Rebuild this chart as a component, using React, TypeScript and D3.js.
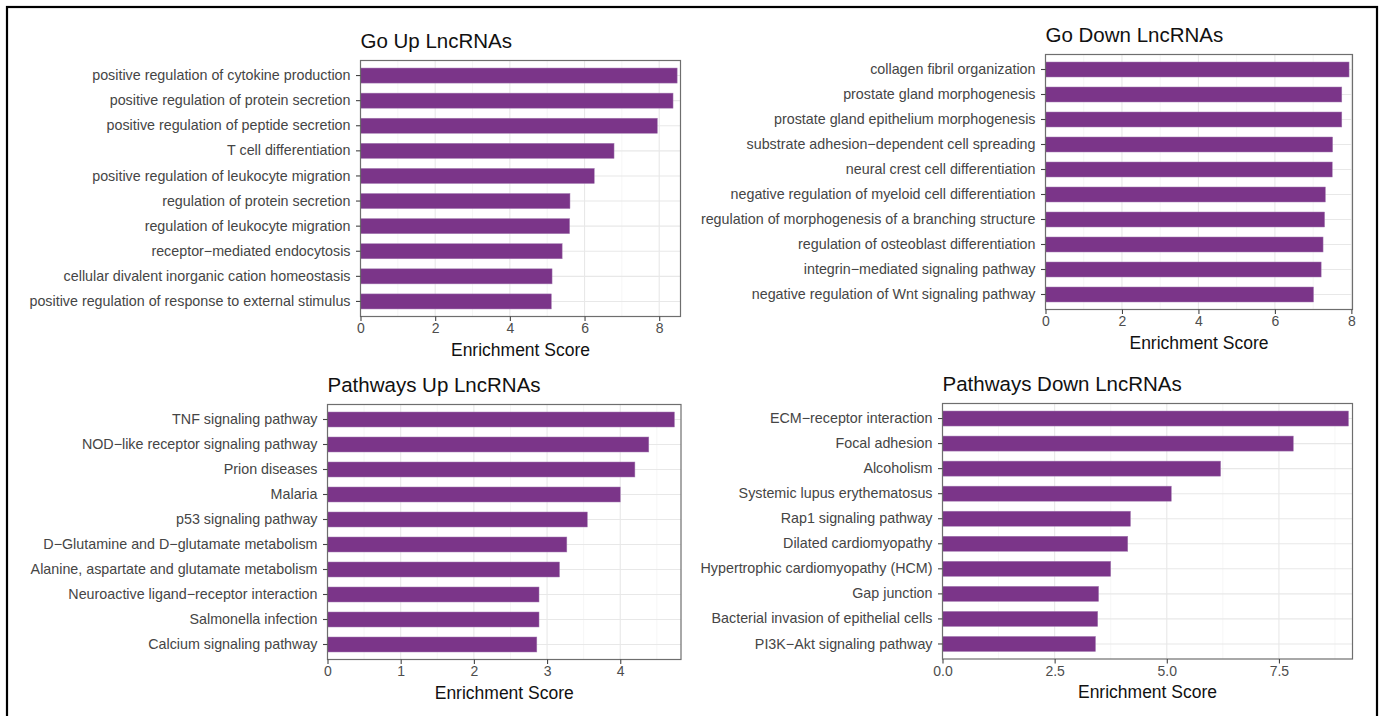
import { useEffect, useRef } from 'react';
import * as d3 from 'd3';

// GO terms, upregulated lncRNAs
const goUpTerms = [
    "positive regulation of cytokine production",
    "positive regulation of protein secretion",
    "positive regulation of peptide secretion",
    "T cell differentiation",
    "positive regulation of leukocyte migration",
    "regulation of protein secretion",
    "regulation of leukocyte migration",
    "receptor\u2212mediated endocytosis",
    "cellular divalent inorganic cation homeostasis",
    "positive regulation of response to external stimulus",
];
const goUpScores = [8.48, 8.37, 7.95, 6.79, 6.26, 5.61, 5.60, 5.40, 5.13, 5.11];

// GO terms, downregulated lncRNAs
const goDownTerms = [
    "collagen fibril organization",
    "prostate gland morphogenesis",
    "prostate gland epithelium morphogenesis",
    "substrate adhesion\u2212dependent cell spreading",
    "neural crest cell differentiation",
    "negative regulation of myeloid cell differentiation",
    "regulation of morphogenesis of a branching structure",
    "regulation of osteoblast differentiation",
    "integrin\u2212mediated signaling pathway",
    "negative regulation of Wnt signaling pathway",
];
const goDownScores = [7.94, 7.75, 7.75, 7.51, 7.50, 7.32, 7.30, 7.26, 7.21, 7.01];

// KEGG pathways, upregulated lncRNAs
const pathUpTerms = [
    "TNF signaling pathway",
    "NOD\u2212like receptor signaling pathway",
    "Prion diseases",
    "Malaria",
    "p53 signaling pathway",
    "D\u2212Glutamine and D\u2212glutamate metabolism",
    "Alanine, aspartate and glutamate metabolism",
    "Neuroactive ligand\u2212receptor interaction",
    "Salmonella infection",
    "Calcium signaling pathway",
];
const pathUpScores = [4.74, 4.39, 4.20, 4.00, 3.55, 3.27, 3.17, 2.89, 2.89, 2.86];

// KEGG pathways, downregulated lncRNAs
const pathDownTerms = [
    "ECM\u2212receptor interaction",
    "Focal adhesion",
    "Alcoholism",
    "Systemic lupus erythematosus",
    "Rap1 signaling pathway",
    "Dilated cardiomyopathy",
    "Hypertrophic cardiomyopathy (HCM)",
    "Gap junction",
    "Bacterial invasion of epithelial cells",
    "PI3K\u2212Akt signaling pathway",
];
const pathDownScores = [9.05, 7.82, 6.20, 5.10, 4.19, 4.13, 3.75, 3.48, 3.46, 3.41];

// x axis breaks
const goUpTicks = [0, 2, 4, 6, 8];
const goUpMinor = [1, 3, 5, 7];
const goDownTicks = [0, 2, 4, 6, 8];
const goDownMinor = [1, 3, 5, 7];
const pathUpTicks = [0, 1, 2, 3, 4];
const pathUpMinor = [0.5, 1.5, 2.5, 3.5, 4.5];
const pathDownTicks = [0, 2.5, 5, 7.5];
const pathDownMinor = [1.25, 3.75, 6.25, 8.75];

const FONT = "'Liberation Sans', Arial, Helvetica, sans-serif";
const BAR = "#7B3589";

export default function App() {
    const svgRef = useRef<SVGSVGElement>(null);

    useEffect(() => {
        if (!svgRef.current) return;
        const svg = d3.select(svgRef.current);
        svg.selectAll("*").remove();

        const panels = [
            { title: "Go Up LncRNAs", terms: goUpTerms, scores: goUpScores, ticks: goUpTicks, minor: goUpMinor, fmt: d3.format("d"), left: 360.5, right: 680.5, top: 60.5, bottom: 316.5 },
            { title: "Go Down LncRNAs", terms: goDownTerms, scores: goDownScores, ticks: goDownTicks, minor: goDownMinor, fmt: d3.format("d"), left: 1045.5, right: 1352.5, top: 54.5, bottom: 309.5 },
            { title: "Pathways Up LncRNAs", terms: pathUpTerms, scores: pathUpScores, ticks: pathUpTicks, minor: pathUpMinor, fmt: d3.format("d"), left: 327.5, right: 681, top: 404.5, bottom: 659.5 },
            { title: "Pathways Down LncRNAs", terms: pathDownTerms, scores: pathDownScores, ticks: pathDownTicks, minor: pathDownMinor, fmt: d3.format(".1f"), left: 942.5, right: 1352.5, top: 403.5, bottom: 659 },
        ];

        // outer frame
        svg.append("rect")
            .attr("x", 7).attr("y", 7)
            .attr("width", 1370).attr("height", 730)
            .attr("fill", "none")
            .attr("stroke", "#000")
            .attr("stroke-width", 2.2);

        panels.forEach(p => {
            const x = d3.scaleLinear()
                .domain([0, (d3.max(p.scores) || 0) + 0.09])
                .range([p.left, p.right]);
            const y = d3.scaleBand()
                .domain(p.terms)
                .range([p.top, p.bottom])
                .paddingInner(0.4)
                .paddingOuter(0.3);

            const g = svg.append("g").style("font-family", FONT);

            // grid
            g.append("g").selectAll("line")
                .data(p.minor.filter(v => x(v) < p.right))
                .join("line")
                .attr("x1", d => x(d)).attr("x2", d => x(d))
                .attr("y1", p.top).attr("y2", p.bottom)
                .attr("stroke", "#F2F2F2").attr("stroke-width", 0.7);
            g.append("g").selectAll("line")
                .data(p.ticks)
                .join("line")
                .attr("x1", d => x(d)).attr("x2", d => x(d))
                .attr("y1", p.top).attr("y2", p.bottom)
                .attr("stroke", "#E8E8E8").attr("stroke-width", 1.1);
            g.append("g").selectAll("line")
                .data(p.terms)
                .join("line")
                .attr("x1", p.left).attr("x2", p.right)
                .attr("y1", d => (y(d) || 0) + y.bandwidth() / 2)
                .attr("y2", d => (y(d) || 0) + y.bandwidth() / 2)
                .attr("stroke", "#E8E8E8").attr("stroke-width", 1.1);

            // bars
            g.append("g").selectAll("rect")
                .data(p.terms.map((t, i) => ({ term: t, score: p.scores[i] })))
                .join("rect")
                .attr("x", x(0))
                .attr("y", d => y(d.term) || 0)
                .attr("width", d => x(d.score) - x(0))
                .attr("height", y.bandwidth())
                .attr("fill", BAR)
                .attr("stroke", "#A47DB2")
                .attr("stroke-width", 0.5);

            // panel border
            g.append("rect")
                .attr("x", p.left).attr("y", p.top)
                .attr("width", p.right - p.left).attr("height", p.bottom - p.top)
                .attr("fill", "none")
                .attr("stroke", "#6E6E6E")
                .attr("stroke-width", 1.2);

            // y axis
            g.append("g")
                .attr("transform", `translate(${p.left},0)`)
                .call(d3.axisLeft(y).tickSize(4.5).tickPadding(5.5))
                .call(a => a.select(".domain").remove())
                .call(a => a.selectAll("line").attr("stroke", "#444").attr("stroke-width", 1.1))
                .selectAll("text")
                .style("font-size", "14.3px")
                .style("font-family", FONT)
                .attr("fill", "#454545");

            // x axis
            g.append("g")
                .attr("transform", `translate(0,${p.bottom})`)
                .call(d3.axisBottom(x).tickValues(p.ticks).tickFormat(d => p.fmt(d as number)).tickSize(4.5).tickPadding(2.5))
                .call(a => a.select(".domain").remove())
                .call(a => a.selectAll("line").attr("stroke", "#444").attr("stroke-width", 1.1))
                .selectAll("text")
                .style("font-size", "14px")
                .style("font-family", FONT)
                .attr("fill", "#4D4D4D");

            // axis title
            g.append("text")
                .attr("x", (p.left + p.right) / 2)
                .attr("y", p.bottom + 39)
                .attr("text-anchor", "middle")
                .style("font-size", "17.5px")
                .attr("fill", "#111")
                .text("Enrichment Score");

            // plot title
            g.append("text")
                .attr("x", p.left)
                .attr("y", p.top - 13)
                .style("font-size", "20.5px")
                .attr("fill", "#111")
                .text(p.title);
        });
    }, []);

    return (
        <svg
            ref={svgRef}
            width={1383}
            height={716}
            style={{ position: "absolute", left: 0, top: 0, background: "#fff", display: "block" }}
        ></svg>
    );
}
